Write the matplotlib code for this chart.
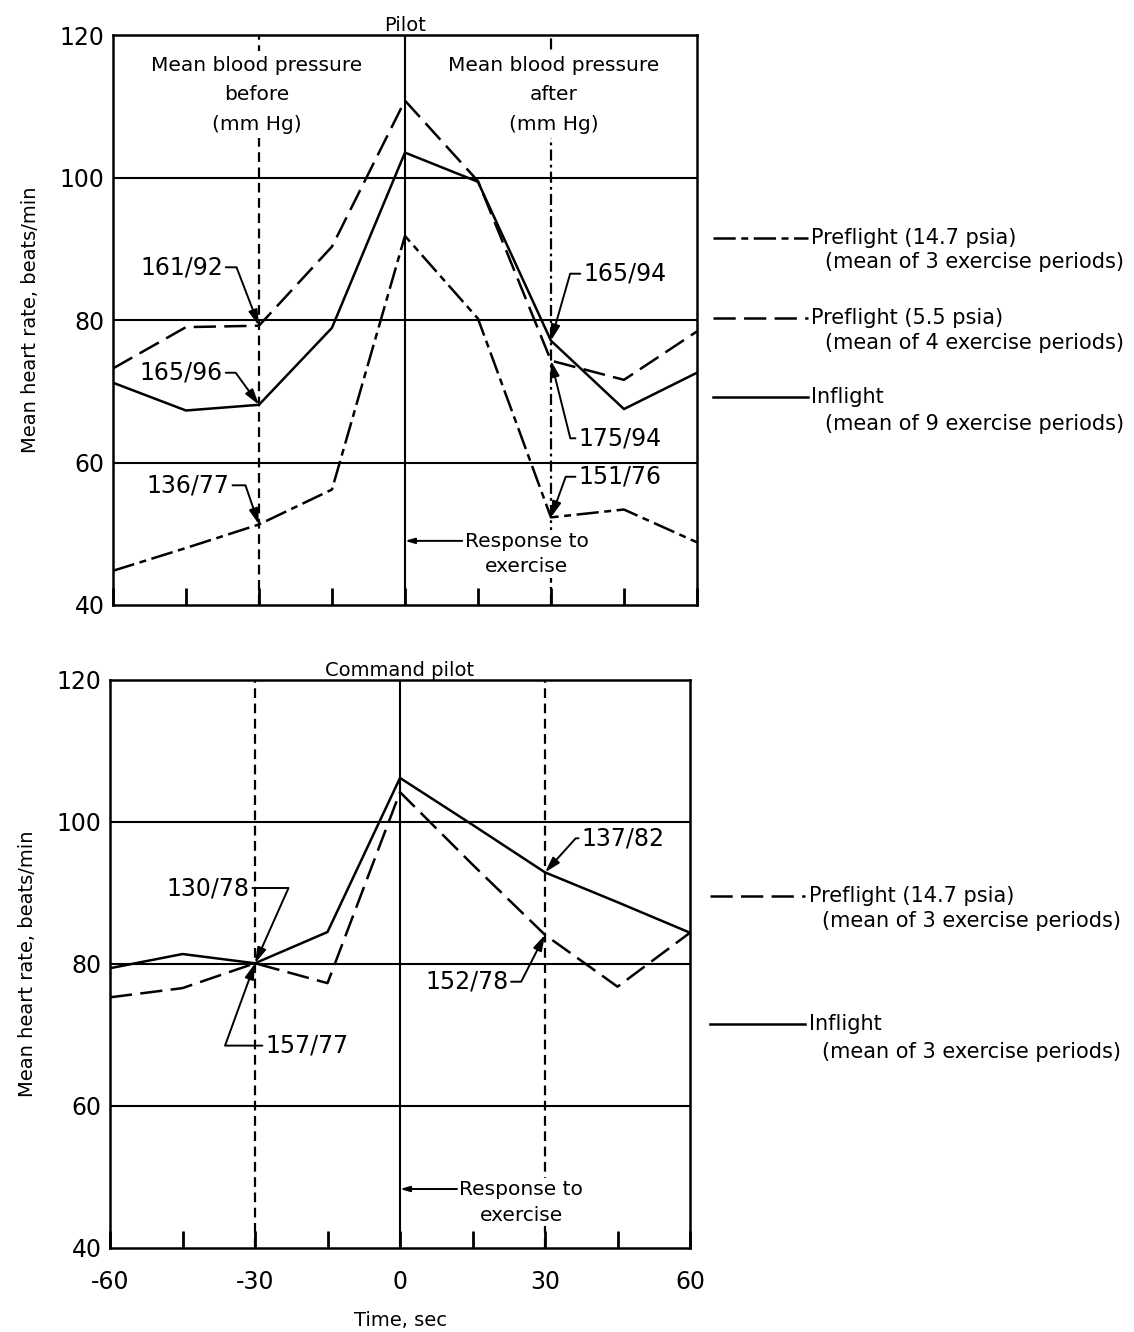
import matplotlib
matplotlib.use('Agg')
import matplotlib.pyplot as plt
from matplotlib.lines import Line2D

plt.rcParams['font.family'] = ['DejaVu Sans']
plt.rcParams['axes.unicode_minus'] = False
plt.rcParams['lines.scale_dashes'] = False

time_s = [-60, -45, -30, -15, 0, 15, 30, 45, 60]

# Pilot, mean heart rate (beats/min)
pilot_pre_147 = [44.8, 48.0, 51.3, 56.2, 91.8, 80.2, 52.3, 53.4, 48.8]
pilot_pre_55 = [73.2, 79.0, 79.2, 90.3, 110.8, 99.5, 74.3, 71.6, 78.4]
pilot_inflight = [71.2, 67.3, 68.1, 78.9, 103.5, 99.4, 77.1, 67.5, 72.6]

# Command pilot, mean heart rate (beats/min)
cmd_pre_147 = [75.3, 76.6, 80.1, 77.3, 104.2, 94.0, 84.1, 76.8, 84.4]
cmd_inflight = [79.4, 81.4, 80.1, 84.5, 106.2, 99.6, 92.9, 88.7, 84.4]

# blood pressure notes: label, series, time, text x, text y, ha, leader angle
pilot_bp = [
    ('161/92', 'pre55', -30, -37.4, 87.4, 'right', 111),
    ('165/96', 'inflight', -30, -37.4, 72.6, 'right', 126),
    ('136/77', 'pre147', -30, -36.0, 56.8, 'right', 109),
    ('165/94', 'inflight', 30, 36.6, 86.5, 'left', 74),
    ('175/94', 'pre55', 30, 35.6, 63.4, 'left', 104),
    ('151/76', 'pre147', 30, 35.6, 58.0, 'left', 70),
]
cmd_bp = [
    ('130/78', 'inflight', -30, -31.1, 90.7, 'right', 66),
    ('157/77', 'pre147', -30, -27.9, 68.5, 'left', 70),
    ('137/82', 'inflight', 30, 37.5, 97.7, 'left', 48),
    ('152/78', 'pre147', 30, 22.4, 77.5, 'right', 63),
]

LW = 1.8
DASH_DOT = (0, (16, 4, 5, 4))
DASH = (0, (16, 6))
VDASH = (0, (7, 4))
VDASHDOT = (0, (8, 3, 2, 3))
ARROW = '-|>,head_length=0.55,head_width=0.16'

fig = plt.figure(figsize=(11.34, 13.32), dpi=100)
ax1 = fig.add_axes([0.0996, 0.5458, 0.515, 0.4279])
ax2 = fig.add_axes([0.0970, 0.0631, 0.5115, 0.4264])


def frame(ax, xlabels):
    ax.set_xlim(-60, 60)
    ax.set_ylim(40, 120)
    for y in (60, 80, 100):
        ax.axhline(y, color='black', lw=1.5, zorder=1)
    ax.axvline(0, color='black', lw=1.5, zorder=1)
    ax.set_xticks(time_s)
    ax.set_xticklabels(xlabels)
    ax.set_yticks([40, 60, 80, 100, 120])
    ax.tick_params(axis='x', direction='in', length=12, width=2, pad=16,
                   labelsize=17)
    ax.tick_params(axis='y', length=0, pad=6, labelsize=17)
    for s in ax.spines.values():
        s.set_linewidth(1.8)
    ax.set_ylabel('Mean heart rate, beats/min', fontsize=14, labelpad=14)


def bp_notes(ax, notes, series):
    for text, key, t, tx, ty, ha, ang in notes:
        tip = (t, series[key][time_s.index(t)])
        ax.annotate(text, xy=tip, xytext=(tx, ty), ha=ha, va='center',
                    fontsize=17, zorder=6,
                    arrowprops=dict(arrowstyle=ARROW, color='black', lw=1.4,
                                    shrinkA=0, shrinkB=0,
                                    connectionstyle=f'angle,angleA=0,angleB={ang},rad=0'))


def response_note(ax, y):
    ax.annotate('', xy=(0, y), xytext=(11.8, y),
                arrowprops=dict(arrowstyle=ARROW, color='black', lw=1.4,
                                shrinkA=0, shrinkB=0))
    ax.text(12.3, y + 1.3, 'Response to\nexercise', ha='left', va='top',
            multialignment='center', fontsize=14.5, linespacing=1.45, zorder=5,
            bbox=dict(facecolor='white', edgecolor='none', pad=1))


# ---- Pilot ----
frame(ax1, [])
ax1.set_title('Pilot', fontsize=14, pad=3)
ax1.axvline(-30, color='black', lw=1.6, ls=VDASH, zorder=1)
ax1.axvline(30, color='black', lw=1.6, ls=VDASHDOT, zorder=1)
ax1.plot(time_s, pilot_pre_147, color='black', lw=LW, ls=DASH_DOT, zorder=3)
ax1.plot(time_s, pilot_pre_55, color='black', lw=LW, ls=DASH, zorder=3)
ax1.plot(time_s, pilot_inflight, color='black', lw=LW, zorder=3)
hdr = dict(ha='center', va='top', fontsize=14.5, linespacing=1.7, zorder=5,
           bbox=dict(facecolor='white', edgecolor='none', pad=3))
ax1.text(-30.5, 117.1, 'Mean blood pressure\nbefore\n(mm Hg)', **hdr)
ax1.text(30.5, 117.1, 'Mean blood pressure\nafter\n(mm Hg)', **hdr)
bp_notes(ax1, pilot_bp, {'pre147': pilot_pre_147, 'pre55': pilot_pre_55,
                         'inflight': pilot_inflight})
response_note(ax1, 49.0)

# ---- Command pilot ----
frame(ax2, ['-60', '', '-30', '', '0', '', '30', '', '60'])
ax2.set_title('Command pilot', fontsize=14, pad=3)
ax2.set_xlabel('Time, sec', fontsize=14, labelpad=12)
ax2.axvline(-30, color='black', lw=1.6, ls=VDASH, zorder=1)
ax2.axvline(30, color='black', lw=1.6, ls=VDASH, zorder=1)
ax2.plot(time_s, cmd_pre_147, color='black', lw=LW, ls=DASH, zorder=3)
ax2.plot(time_s, cmd_inflight, color='black', lw=LW, zorder=3)
bp_notes(ax2, cmd_bp, {'pre147': cmd_pre_147, 'inflight': cmd_inflight})
response_note(ax2, 48.3)


# ---- keys at right ----
def key(x0, x1, y, y2, ls, l1, l2):
    fig.add_artist(Line2D([x0, x1], [y, y], transform=fig.transFigure,
                          color='black', lw=LW, ls=ls))
    fig.text(x1 + 0.003, y, l1, va='center', fontsize=15)
    fig.text(x1 + 0.015, y2, l2, va='center', fontsize=15)


key(0.629, 0.7125, 0.8213, 0.8033, DASH_DOT, 'Preflight (14.7 psia)',
    '(mean of 3 exercise periods)')
key(0.629, 0.7125, 0.7613, 0.7425, DASH, 'Preflight (5.5 psia)',
    '(mean of 4 exercise periods)')
key(0.629, 0.7125, 0.7020, 0.6817, '-', 'Inflight',
    '(mean of 9 exercise periods)')
key(0.626, 0.7100, 0.3273, 0.3086, DASH, 'Preflight (14.7 psia)',
    '(mean of 3 exercise periods)')
key(0.626, 0.7100, 0.2312, 0.2102, '-', 'Inflight',
    '(mean of 3 exercise periods)')

fig.savefig('out.png', dpi=100, facecolor='white')
